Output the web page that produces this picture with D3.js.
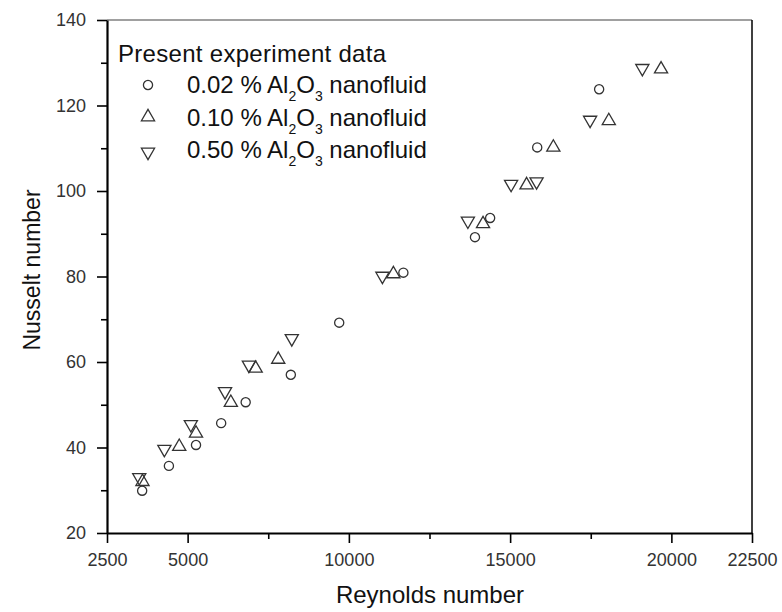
<!DOCTYPE html>
<html>
<head>
<meta charset="utf-8">
<script src="https://cdn.jsdelivr.net/npm/d3@7"></script>
<style>
  body { margin: 0; background: #fff; }
  svg text { font-family: "Liberation Sans", Arial, sans-serif; }
</style>
</head>
<body>
<div id="chart"></div>
<script>
// Reynolds / Nusselt pairs
const re002 = [3590, 4420, 5260, 6040, 6800, 8200, 9700, 11690, 13910, 14380, 15840, 17760];
const nu002 = [29.9, 35.7, 40.6, 45.7, 50.6, 57.0, 69.2, 80.9, 89.2, 93.7, 110.2, 123.8];

const re010 = [3600, 4740, 5260, 6340, 7110, 7810, 11380, 14160, 15510, 16340, 18060, 19680];
const nu010 = [32.0, 40.2, 43.3, 50.5, 58.5, 60.6, 80.6, 92.3, 101.4, 110.2, 116.4, 128.5];

const re050 = [3500, 4280, 5100, 6160, 6900, 8230, 11040, 13690, 15030, 15820, 17480, 19100];
const nu050 = [33.0, 39.6, 45.4, 53.1, 59.3, 65.5, 80.1, 93.0, 101.6, 102.2, 116.6, 128.7];

const xTicks = [2500, 5000, 10000, 15000, 20000, 22500];
const xMinor = [7500, 12500, 17500];
const yTicks = [20, 40, 60, 80, 100, 120, 140];
const yMinor = [30, 50, 70, 90, 110, 130];

const seriesNames = ["0.02", "0.10", "0.50"];

const width = 782;
const height = 612;
const margin = { top: 20, right: 30, bottom: 79, left: 107 };

const svg = d3.select("#chart")
  .append("svg")
  .attr("width", width)
  .attr("height", height);

const chartWidth = width - margin.left - margin.right;
const chartHeight = height - margin.top - margin.bottom;

const g = svg.append("g")
  .attr("transform", `translate(${margin.left},${margin.top})`);

const x = d3.scaleLinear().domain([2500, 22500]).range([0, chartWidth]);
const y = d3.scaleLinear().domain([20, 140]).range([chartHeight, 0]);

// frame (top grey, right black)
g.append("line")
  .attr("x1", 0).attr("x2", chartWidth).attr("y1", 0).attr("y2", 0)
  .attr("stroke", "#808080").attr("stroke-width", 1.5);
g.append("line")
  .attr("x1", chartWidth).attr("x2", chartWidth).attr("y1", 0).attr("y2", chartHeight)
  .attr("stroke", "#000").attr("stroke-width", 1.5);

// minor ticks
g.append("g")
  .attr("transform", `translate(0,${chartHeight})`)
  .call(d3.axisBottom(x).tickValues(xMinor).tickSize(6).tickFormat(""))
  .call(a => a.select(".domain").remove());
g.append("g")
  .call(d3.axisLeft(y).tickValues(yMinor).tickSize(6).tickFormat(""))
  .call(a => a.select(".domain").remove());

// major axes
const xAxis = g.append("g")
  .attr("transform", `translate(0,${chartHeight})`)
  .call(d3.axisBottom(x).tickValues(xTicks).tickSize(10).tickSizeOuter(0).tickPadding(10).tickFormat(d3.format("d")));
const yAxis = g.append("g")
  .call(d3.axisLeft(y).tickValues(yTicks).tickSize(10).tickSizeOuter(0).tickPadding(11));

[xAxis, yAxis].forEach(a => {
  a.select(".domain").attr("stroke-width", 2.2);
  a.selectAll("text")
    .style("font-size", "18px")
    .attr("fill", "#333");
});
g.selectAll(".tick line").attr("stroke-width", 1.6);

// points
const symUp = d3.symbol().type(d3.symbolTriangle).size(75);
const circle = d3.symbol().type(d3.symbolCircle).size(66);

function drawSeries(xs, ys, kind) {
  const pts = xs.map((r, i) => ({ re: r, nu: ys[i] }));
  g.append("g").selectAll("path")
    .data(pts)
    .enter()
    .append("path")
    .attr("d", kind === "circle" ? circle : symUp)
    .attr("transform", d => `translate(${x(d.re)},${y(d.nu)})` + (kind === "down" ? " rotate(180)" : ""))
    .attr("fill", "none")
    .attr("stroke", "#333")
    .attr("stroke-width", 1.3);
}

drawSeries(re002, nu002, "circle");
drawSeries(re010, nu010, "up");
drawSeries(re050, nu050, "down");

// axis titles
svg.append("text")
  .attr("x", 430)
  .attr("y", 603)
  .attr("text-anchor", "middle")
  .style("font-size", "24px")
  .attr("fill", "#111")
  .text("Reynolds number");

svg.append("text")
  .attr("transform", "rotate(-90)")
  .attr("x", -270)
  .attr("y", 40)
  .attr("text-anchor", "middle")
  .style("font-size", "23px")
  .attr("fill", "#111")
  .text("Nusselt number");

// legend
const legend = svg.append("g");
legend.append("text")
  .attr("x", 118).attr("y", 62)
  .style("font-size", "24px")
  .style("letter-spacing", "0.3px")
  .attr("fill", "#111")
  .text("Present experiment data");

const kinds = ["circle", "up", "down"];
const rowBase = [93, 126, 158];
const markY = [85, 117, 152];

seriesNames.forEach((name, i) => {
  legend.append("path")
    .attr("d", kinds[i] === "circle" ? circle : symUp)
    .attr("transform", `translate(148,${markY[i]})` + (kinds[i] === "down" ? " rotate(180)" : ""))
    .attr("fill", "none")
    .attr("stroke", "#333")
    .attr("stroke-width", 1.3);

  const t = legend.append("text")
    .attr("x", 187).attr("y", rowBase[i])
    .style("font-size", "24px")
    .attr("fill", "#111");
  t.append("tspan").text(`${name} % Al`);
  t.append("tspan").attr("dy", 8).style("font-size", "14px").text("2");
  t.append("tspan").attr("dy", -8).text("O");
  t.append("tspan").attr("dy", 8).style("font-size", "14px").text("3");
  t.append("tspan").attr("dy", -8).text(" nanofluid");
});
</script>
</body>
</html>
